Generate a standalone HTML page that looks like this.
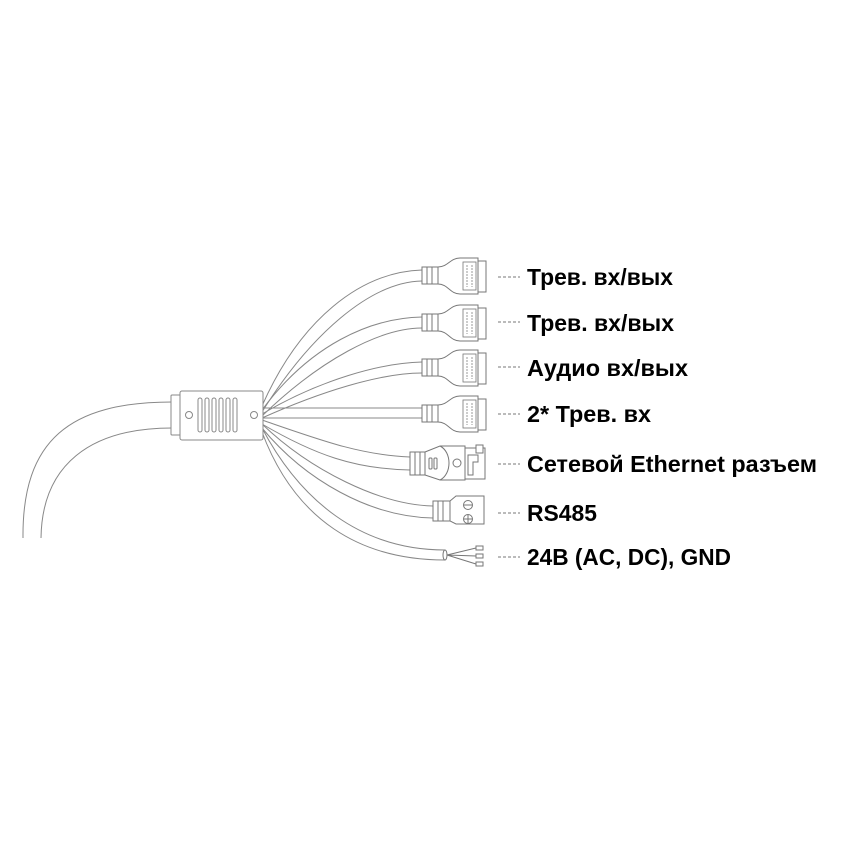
<!DOCTYPE html>
<html><head><meta charset="utf-8"><style>html,body{margin:0;padding:0;background:#fff}svg{display:block}</style></head>
<body>
<svg width="852" height="852" viewBox="0 0 852 852" xmlns="http://www.w3.org/2000/svg">
<defs>
<g id="conn" fill="#fff" stroke="#777" stroke-width="1">
  <rect x="422" y="-8" width="16" height="17"/>
  <line x1="427" y1="-8" x2="427" y2="9"/><line x1="432" y1="-8" x2="432" y2="9"/>
  <path d="M438,-8 C448,-8 450,-17 460,-17 L478,-17 L478,19 L460,19 C450,19 448,9 438,9 Z"/>
  <rect x="478" y="-14" width="8" height="31"/>
  <rect x="463" y="-13" width="13" height="28" stroke-width="0.8"/>
  <line x1="467" y1="-10" x2="467" y2="12" stroke="#999" stroke-dasharray="2,1"/>
  <line x1="472" y1="-10" x2="472" y2="12" stroke="#999" stroke-dasharray="2,1"/>
</g>
</defs>
<g fill="none" stroke="#888" stroke-width="1">
  <path d="M23,538 C22,440 70,402 172,402"/>
  <path d="M41,538 C42,465 90,428 172,428"/>
  <path d="M262,406 C300,320 360,272 422,270"/>
  <path d="M262,412 C310,335 370,282 422,281"/>
  <path d="M262,410 C310,345 370,318 422,317"/>
  <path d="M262,416 C320,360 380,328 422,328"/>
  <path d="M262,414 C320,380 380,363 422,362"/>
  <path d="M262,418 C320,392 380,373 422,373"/>
  <path d="M262,408 L422,408"/><path d="M262,418 L422,418"/>
  <path d="M262,420 C320,440 360,455 410,457"/>
  <path d="M262,424 C315,455 355,469 410,470"/>
  <path d="M262,424 C310,470 380,505 433,506"/>
  <path d="M262,428 C305,480 370,517 433,518"/>
  <path d="M262,428 C300,500 360,550 445,550"/>
  <path d="M262,432 C295,520 360,560 445,560"/>
</g>
<g fill="#fff" stroke="#888" stroke-width="1">
  <rect x="171" y="395" width="10" height="40" rx="1"/>
  <rect x="180" y="391" width="83" height="49" rx="2"/>
  <circle cx="189" cy="415" r="3.5"/><circle cx="254" cy="415" r="3.5"/>
  <rect x="198" y="398" width="4" height="34" rx="2"/>
  <rect x="205" y="398" width="4" height="34" rx="2"/>
  <rect x="212" y="398" width="4" height="34" rx="2"/>
  <rect x="219" y="398" width="4" height="34" rx="2"/>
  <rect x="226" y="398" width="4" height="34" rx="2"/>
  <rect x="233" y="398" width="4" height="34" rx="2"/>
</g>
<use href="#conn" transform="translate(0,275)"/>
<use href="#conn" transform="translate(0,322)"/>
<use href="#conn" transform="translate(0,367)"/>
<use href="#conn" transform="translate(0,413)"/>
<g fill="#fff" stroke="#777" stroke-width="1">
  <rect x="410" y="452" width="15" height="23"/>
  <line x1="415" y1="452" x2="415" y2="475"/><line x1="420" y1="452" x2="420" y2="475"/>
  <path d="M425,452 L440,446 L465,446 L465,480 L440,480 L425,475 Z"/>
  <path d="M440,446 C452,452 452,474 440,480" />
  <rect x="429" y="458" width="3" height="11" rx="1"/><rect x="434" y="458" width="3" height="11" rx="1"/>
  <circle cx="457" cy="463" r="4"/>
  <rect x="465" y="448" width="20" height="31"/>
  <rect x="476" y="445" width="7" height="8"/>
  <path d="M468,455 L478,455 L478,462 L473,462 L473,475 L468,475 Z"/>
</g>
<g fill="#fff" stroke="#777" stroke-width="1">
  <rect x="433" y="501" width="17" height="20"/>
  <line x1="438" y1="501" x2="438" y2="521"/><line x1="443" y1="501" x2="443" y2="521"/>
  <path d="M450,501 L456,496 L484,496 L484,524 L456,524 L450,521 Z"/>
  <circle cx="468" cy="505" r="4.5"/><circle cx="468" cy="519" r="4.5"/>
  <line x1="464" y1="505" x2="472" y2="505"/><line x1="464" y1="519" x2="472" y2="519"/><line x1="468" y1="515" x2="468" y2="523"/>
</g>
<g fill="#fff" stroke="#777" stroke-width="1">
  <ellipse cx="445" cy="555" rx="2" ry="5"/>
  <path d="M447,555 L476,548 M447,555 L476,556 M447,555 L476,564" fill="none"/>
  <rect x="476" y="546" width="7" height="4"/><rect x="476" y="554" width="7" height="4"/><rect x="476" y="562" width="7" height="4"/>
</g>
<g stroke="#777" stroke-width="1" stroke-dasharray="3,2">
  <line x1="498" y1="277" x2="520" y2="277"/>
  <line x1="498" y1="322" x2="520" y2="322"/>
  <line x1="498" y1="367" x2="520" y2="367"/>
  <line x1="498" y1="414" x2="520" y2="414"/>
  <line x1="498" y1="464" x2="520" y2="464"/>
  <line x1="498" y1="513" x2="520" y2="513"/>
  <line x1="498" y1="557" x2="520" y2="557"/>
</g>
<g font-family="Liberation Sans, sans-serif" font-weight="bold" font-size="23" fill="#000">
  <text x="527" y="285" textLength="146" lengthAdjust="spacingAndGlyphs">Трев. вх/вых</text>
  <text x="527" y="331" textLength="147" lengthAdjust="spacingAndGlyphs">Трев. вх/вых</text>
  <text x="527" y="376" textLength="161" lengthAdjust="spacingAndGlyphs">Аудио вх/вых</text>
  <text x="527" y="422" textLength="124" lengthAdjust="spacingAndGlyphs">2* Трев. вх</text>
  <text x="527" y="472" textLength="290" lengthAdjust="spacingAndGlyphs">Сетевой Ethernet разъем</text>
  <text x="527" y="521" textLength="70" lengthAdjust="spacingAndGlyphs">RS485</text>
  <text x="527" y="565" textLength="204" lengthAdjust="spacingAndGlyphs">24В (AC, DC), GND</text>
</g>
</svg>
</body></html>
